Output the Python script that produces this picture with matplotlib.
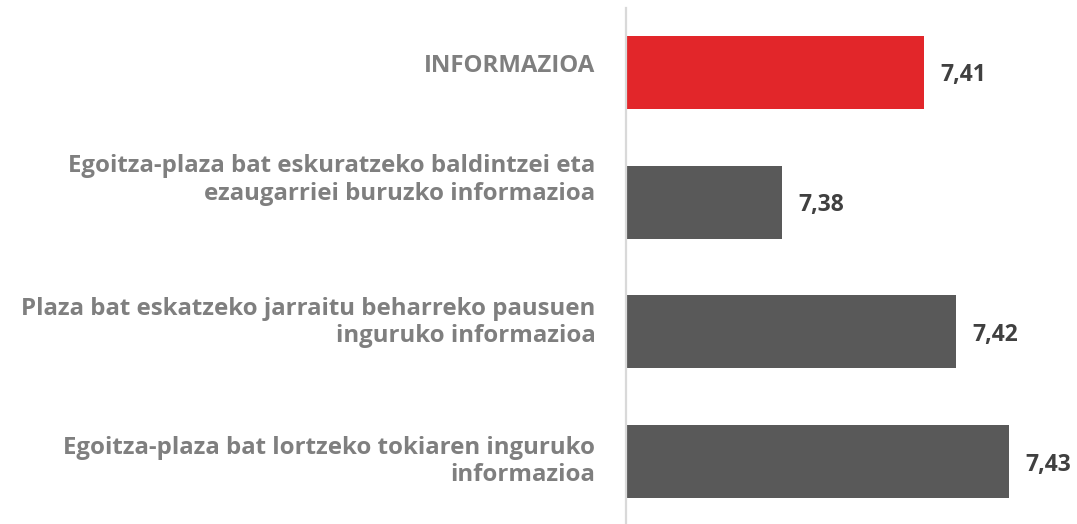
import matplotlib
matplotlib.use("Agg")
import matplotlib.pyplot as plt
from matplotlib import transforms

categories = [
    "INFORMAZIOA",
    "Egoitza-plaza bat eskuratzeko baldintzei eta\nezaugarriei buruzko informazioa",
    "Plaza bat eskatzeko jarraitu beharreko pausuen\ninguruko informazioa",
    "Egoitza-plaza bat lortzeko tokiaren inguruko\ninformazioa",
]
values = [7.4112, 7.3800, 7.4183, 7.4300]
bar_colors = ["#E2262A", "#595959", "#595959", "#595959"]

plt.rcParams['font.family'] = ['Open Sans', 'DejaVu Sans']

W, H, DPI = 1077, 524, 100
fig = plt.figure(figsize=(W / DPI, H / DPI), dpi=DPI)
ax = fig.add_axes([626 / W, 0.0, 1 - 626 / W, 1 - 8 / H])

pos = list(range(len(categories)))
ax.barh(pos, values, height=0.563, color=bar_colors, left=0)
ax.set_xlim(7.3456, 7.3456 + 451 / 4540)
ax.set_ylim(3.48, -0.497)

for s in ["top", "right", "bottom"]:
    ax.spines[s].set_visible(False)
ax.spines["left"].set_color("#D9D9D9")
ax.spines["left"].set_linewidth(1.6)
ax.set_xticks([])
ax.set_yticks([])

label_dy = [4.5, 16, 7, 0]  # vertical offset in points (positive = up)
for i, (c, v) in enumerate(zip(categories, values)):
    tr = ax.get_yaxis_transform() + transforms.ScaledTranslation(-22 / 72, label_dy[i] / 72, fig.dpi_scale_trans)
    ax.text(0, i, c, transform=tr, ha="right", va="center", multialignment="right",
            fontsize=17.3, fontweight="bold", color="#7F7F7F", linespacing=1.17)
    ax.annotate(f"{v:.2f}".replace(".", ","), xy=(v, i), xytext=(12, 0),
                textcoords="offset points", ha="left", va="center_baseline",
                fontsize=16.5, fontweight="bold", color="#404040")

fig.savefig("out.png", dpi=DPI)
